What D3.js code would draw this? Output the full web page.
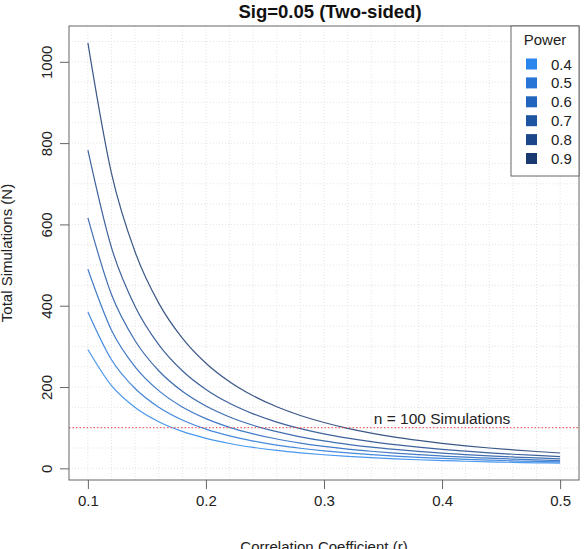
<!DOCTYPE html>
<html>
<head>
<meta charset="utf-8">
<script src="https://cdn.jsdelivr.net/npm/d3@7"></script>
<style>
  html, body { margin: 0; padding: 0; background: #fff; }
  svg { display: block; font-family: "Liberation Sans", Arial, Helvetica, sans-serif; }
</style>
</head>
<body>
<div id="chart"></div>
<script>
// correlation coefficient values (x)
const corr = [0.10, 0.12, 0.14, 0.16, 0.18, 0.20, 0.22, 0.24, 0.26, 0.28, 0.30,
  0.32, 0.34, 0.36, 0.38, 0.40, 0.42, 0.44, 0.46, 0.48, 0.50];

const powerLevels = ['0.4', '0.5', '0.6', '0.7', '0.8', '0.9'];

// total simulations (N) per power level
const n04 = [292.3, 203.3, 149.7, 114.8, 90.9, 73.9, 61.2, 51.6, 44.1, 38.2, 33.4,
  29.5, 26.2, 23.5, 21.2, 19.2, 17.5, 16.1, 14.8, 13.6, 12.7];
const n05 = [384.6, 267.2, 196.4, 150.5, 119.0, 96.5, 79.8, 67.1, 57.2, 49.4, 43.1,
  37.9, 33.6, 30.0, 27.0, 24.4, 22.2, 20.2, 18.5, 17.0, 15.7];
const n06 = [489.6, 339.9, 249.7, 191.1, 150.9, 122.2, 100.9, 84.8, 72.2, 62.2, 54.1,
  47.5, 42.1, 37.5, 33.6, 30.3, 27.4, 25.0, 22.8, 20.9, 19.2];
const n07 = [616.1, 427.5, 313.8, 240.0, 189.4, 153.2, 126.4, 106.0, 90.2, 77.6, 67.4,
  59.1, 52.2, 46.5, 41.6, 37.4, 33.8, 30.7, 28.0, 25.6, 23.5];
const n08 = [782.7, 542.8, 398.2, 304.4, 240.0, 194.0, 159.9, 134.0, 113.8, 97.8, 84.9,
  74.4, 65.6, 58.3, 52.0, 46.7, 42.2, 38.2, 34.7, 31.7, 29.0];
const n09 = [1046.7, 725.7, 532.1, 406.4, 320.3, 258.6, 213.1, 178.4, 151.4, 130.0, 112.7,
  98.5, 86.8, 77.0, 68.7, 61.5, 55.4, 50.1, 45.5, 41.4, 37.8];

const xTicks = [0.1, 0.2, 0.3, 0.4, 0.5];
const yTicks = [0, 200, 400, 600, 800, 1000];
const refLine = 100;

const colors = ['#2a86ec', '#2574d6', '#2164bd', '#1e55a3', '#1b4789', '#183a70'];

const series = [n04, n05, n06, n07, n08, n09].map((vals, i) => ({
  power: powerLevels[i],
  color: colors[i],
  points: vals.map((v, j) => ({ r: corr[j], n: v })),
}));

const W = 588;
const H = 549;
const plot = { left: 69, right: 579, top: 26, bottom: 480 };

const svg = d3.select('#chart')
  .append('svg')
    .attr('width', W)
    .attr('height', H);

// R style 4% padding around the data range
const allN = series.flatMap(s => s.points.map(p => p.n));
const xExt = d3.extent(corr);
const yExt = d3.extent(allN);
const xPad = (xExt[1] - xExt[0]) * 0.04;
const yPad = (yExt[1] - yExt[0]) * 0.04;

const x = d3.scaleLinear()
  .domain([xExt[0] - xPad, xExt[1] + xPad])
  .range([plot.left, plot.right]);
const y = d3.scaleLinear()
  .domain([yExt[0] - yPad, yExt[1] + yPad])
  .range([plot.bottom, plot.top]);

svg.append('defs').append('clipPath')
  .attr('id', 'clip')
  .append('rect')
    .attr('x', plot.left)
    .attr('y', plot.top)
    .attr('width', plot.right - plot.left)
    .attr('height', plot.bottom - plot.top);

// dotted grid
const grid = svg.append('g').attr('clip-path', 'url(#clip)');
grid.selectAll('.gx')
  .data(d3.range(0.08, 0.5401, 0.02))
  .enter()
  .append('line')
    .attr('x1', d => x(d))
    .attr('x2', d => x(d))
    .attr('y1', plot.top)
    .attr('y2', plot.bottom)
    .attr('stroke', '#e4e4e4')
    .attr('stroke-dasharray', '1,2');
grid.selectAll('.gy')
  .data(d3.range(-50, 1101, 50))
  .enter()
  .append('line')
    .attr('x1', plot.left)
    .attr('x2', plot.right)
    .attr('y1', d => y(d))
    .attr('y2', d => y(d))
    .attr('stroke', '#e4e4e4')
    .attr('stroke-dasharray', '1,2');

// curves
const line = d3.line()
  .x(d => x(d.r))
  .y(d => y(d.n))
  .curve(d3.curveMonotoneX);

svg.append('g')
  .attr('clip-path', 'url(#clip)')
  .selectAll('path')
  .data(series)
  .enter()
  .append('path')
    .attr('d', d => line(d.points))
    .attr('fill', 'none')
    .attr('stroke', d => d.color)
    .attr('stroke-opacity', 0.85)
    .attr('stroke-width', 1.2);

// n = 100 reference line
svg.append('line')
  .attr('x1', plot.left)
  .attr('x2', plot.right)
  .attr('y1', y(refLine))
  .attr('y2', y(refLine))
  .attr('stroke', '#e8474c')
  .attr('stroke-width', 1)
  .attr('stroke-dasharray', '1.5,2');

svg.append('text')
  .attr('x', x(0.4))
  .attr('y', y(refLine) - 4)
  .attr('text-anchor', 'middle')
  .style('font-size', '15.5px')
  .attr('fill', '#222')
  .text('n = 100 Simulations');

// axes
const axisX = d3.axisBottom(x)
  .tickValues(xTicks)
  .tickSize(9)
  .tickPadding(6)
  .tickFormat(d3.format('.1f'));
const gx = svg.append('g')
  .attr('transform', `translate(0, ${plot.bottom})`)
  .call(axisX);
gx.select('.domain').remove();
gx.selectAll('.tick line').attr('stroke', '#666');
gx.selectAll('.tick text')
  .style('font-size', '15px')
  .attr('fill', '#222');

const axisY = d3.axisLeft(y)
  .tickValues(yTicks)
  .tickSize(9)
  .tickFormat(d3.format('d'));
const gy = svg.append('g')
  .attr('transform', `translate(${plot.left}, 0)`)
  .call(axisY);
gy.select('.domain').remove();
gy.selectAll('.tick line').attr('stroke', '#666');
gy.selectAll('.tick text')
  .attr('x', null)
  .attr('dy', null)
  .attr('transform', 'translate(-17, 0) rotate(-90)')
  .attr('text-anchor', 'middle')
  .style('font-size', '15px')
  .attr('fill', '#222');

// plot box
svg.append('rect')
  .attr('x', plot.left)
  .attr('y', plot.top)
  .attr('width', plot.right - plot.left)
  .attr('height', plot.bottom - plot.top)
  .attr('fill', 'none')
  .attr('stroke', '#666')
  .attr('stroke-width', 1);

// titles
svg.append('text')
  .attr('x', (plot.left + plot.right) / 2 + 6)
  .attr('y', 18)
  .attr('text-anchor', 'middle')
  .style('font-size', '18.5px')
  .style('font-weight', 'bold')
  .attr('fill', '#111')
  .text('Sig=0.05 (Two-sided)');

svg.append('text')
  .attr('transform', `translate(12, ${(plot.top + plot.bottom) / 2}) rotate(-90)`)
  .attr('text-anchor', 'middle')
  .style('font-size', '15px')
  .attr('fill', '#222')
  .text('Total Simulations (N)');

svg.append('text')
  .attr('x', (plot.left + plot.right) / 2)
  .attr('y', 552)
  .attr('text-anchor', 'middle')
  .style('font-size', '15px')
  .attr('fill', '#222')
  .text('Correlation Coefficient (r)');

// legend
const legend = svg.append('g');
legend.append('rect')
  .attr('x', 511)
  .attr('y', plot.top)
  .attr('width', plot.right - 511)
  .attr('height', 150)
  .attr('fill', '#fff')
  .attr('stroke', '#666');

legend.append('text')
  .attr('x', 545)
  .attr('y', 45)
  .attr('text-anchor', 'middle')
  .style('font-size', '15px')
  .attr('fill', '#222')
  .text('Power');

const items = legend.selectAll('.item')
  .data(series)
  .enter()
  .append('g')
    .attr('transform', (d, i) => `translate(0, ${64 + i * 18.9})`);
items.append('rect')
  .attr('x', 526)
  .attr('y', -5.5)
  .attr('width', 11)
  .attr('height', 11)
  .attr('fill', d => d.color);
items.append('text')
  .attr('x', 551)
  .attr('y', 5.5)
  .style('font-size', '15px')
  .attr('fill', '#222')
  .text(d => d.power);
</script>
</body>
</html>
